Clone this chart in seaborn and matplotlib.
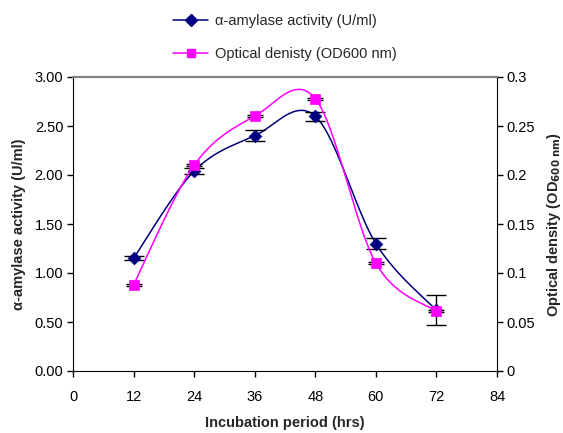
import numpy as np
import pandas as pd
import matplotlib
matplotlib.use("Agg")
import matplotlib.pyplot as plt
import seaborn as sns
from matplotlib.lines import Line2D

# Measurements over the incubation period
hours = [12, 24, 36, 48, 60, 72]
amylase = [1.15, 2.04, 2.40, 2.60, 1.30, 0.62]
amylase_err = [0.02, 0.03, 0.055, 0.045, 0.06, 0.155]
od600 = [0.088, 0.210, 0.260, 0.278, 0.110, 0.061]
od600_err = [0.001, 0.001, 0.001, 0.001, 0.001, 0.001]

x_ticks = [0, 12, 24, 36, 48, 60, 72, 84]
left_ticks = [0.0, 0.5, 1.0, 1.5, 2.0, 2.5, 3.0]
right_ticks = [0, 0.05, 0.1, 0.15, 0.2, 0.25, 0.3]
right_tick_labels = ["0", "0.05", "0.1", "0.15", "0.2", "0.25", "0.3"]


def smooth_curve(xv, yv, n=40):
    """Piecewise cubic Bezier through the points (spreadsheet-style smoothed line)."""
    p = np.column_stack([xv, yv]).astype(float)
    ext = np.vstack([p[0], p, p[-1]])
    out = []
    t = np.linspace(0, 1, n)[:, None]
    for i in range(1, len(ext) - 2):
        p0, p1, p2, p3 = ext[i - 1], ext[i], ext[i + 1], ext[i + 2]
        c1 = p1 + (p2 - p0) / 6.0
        c2 = p2 - (p3 - p1) / 6.0
        seg = ((1 - t) ** 3) * p1 + 3 * ((1 - t) ** 2) * t * c1 + 3 * (1 - t) * t ** 2 * c2 + t ** 3 * p2
        out.append(seg if i == 1 else seg[1:])
    arr = np.vstack(out)
    return pd.DataFrame({"x": arr[:, 0], "y": arr[:, 1]})


sns.set_style("ticks")
plt.rcParams["font.family"] = ["Liberation Sans", "DejaVu Sans"]

navy = "#000080"
magenta = "#FF00FF"

fig = plt.figure(figsize=(5.63, 4.33), dpi=100)
ax = fig.add_axes([73 / 563, 1 - 371 / 433, (497 - 73) / 563, (371 - 77) / 433])
ax2 = ax.twinx()

# alpha-amylase activity (left axis)
sc_a = smooth_curve(hours, amylase)
sns.lineplot(data=sc_a, x="x", y="y", ax=ax, color=navy, lw=1.1, sort=False, estimator=None)
ax.errorbar(hours, amylase, yerr=amylase_err, fmt="none", ecolor="black", elinewidth=1.0,
            capsize=7, capthick=1.0, zorder=3)
sns.scatterplot(x=hours, y=amylase, ax=ax, marker="D", color=navy, s=42, edgecolor=navy,
                linewidth=0.5, zorder=4)

# Optical density (right axis)
sc_o = smooth_curve(hours, od600)
sns.lineplot(data=sc_o, x="x", y="y", ax=ax2, color=magenta, lw=1.1, sort=False, estimator=None)
ax2.errorbar(hours, od600, yerr=od600_err, fmt="none", ecolor="black", elinewidth=1.0,
             capsize=6, capthick=1.0, zorder=3)
sns.scatterplot(x=hours, y=od600, ax=ax2, marker="s", color=magenta, s=42, edgecolor=magenta,
                linewidth=0.5, zorder=4)

ax.set_xlim(0, 84)
ax.set_xticks(x_ticks)
ax.set_ylim(0, 3.0)
ax.set_yticks(left_ticks)
ax.set_yticklabels([f"{v:.2f}" for v in left_ticks])
ax2.set_ylim(0, 0.3)
ax2.set_yticks(right_ticks)
ax2.set_yticklabels(right_tick_labels)

for a in (ax, ax2):
    a.tick_params(axis="both", direction="out", length=4, width=1, labelsize=10.5,
                  colors="black", pad=3)
    a.spines["top"].set_color("#808080")
    a.spines["top"].set_linewidth(1.5)
ax.tick_params(axis="x", pad=10)

ax.spines["right"].set_visible(False)
ax2.spines["left"].set_visible(False)
ax2.spines["bottom"].set_visible(False)
ax2.spines["right"].set_color("black")
ax.spines["left"].set_color("black")
ax.spines["bottom"].set_color("black")

ax.set_xlabel("Incubation period (hrs)", fontsize=10.5, fontweight="bold", labelpad=8)
ax.set_ylabel("α-amylase activity (U/ml)", fontsize=10.5, fontweight="bold", labelpad=6)
ax2.set_ylabel(r"Optical density (OD$_{\mathbf{600\ nm}}$)", fontsize=10.5, fontweight="bold",
               labelpad=7)

handles = [
    Line2D([], [], color=navy, marker="D", markersize=6, lw=1.1),
    Line2D([], [], color=magenta, marker="s", markersize=6, lw=1.1),
]
labels = ["α-amylase activity (U/ml)", "Optical denisty (OD600 nm)"]
fig.legend(handles, labels, loc="upper left", bbox_to_anchor=(160 / 563, 1 - 1 / 433),
           frameon=False, fontsize=10.5, handlelength=2.4, labelspacing=1.3, handletextpad=0.5)

fig.savefig("out.png", dpi=100)
